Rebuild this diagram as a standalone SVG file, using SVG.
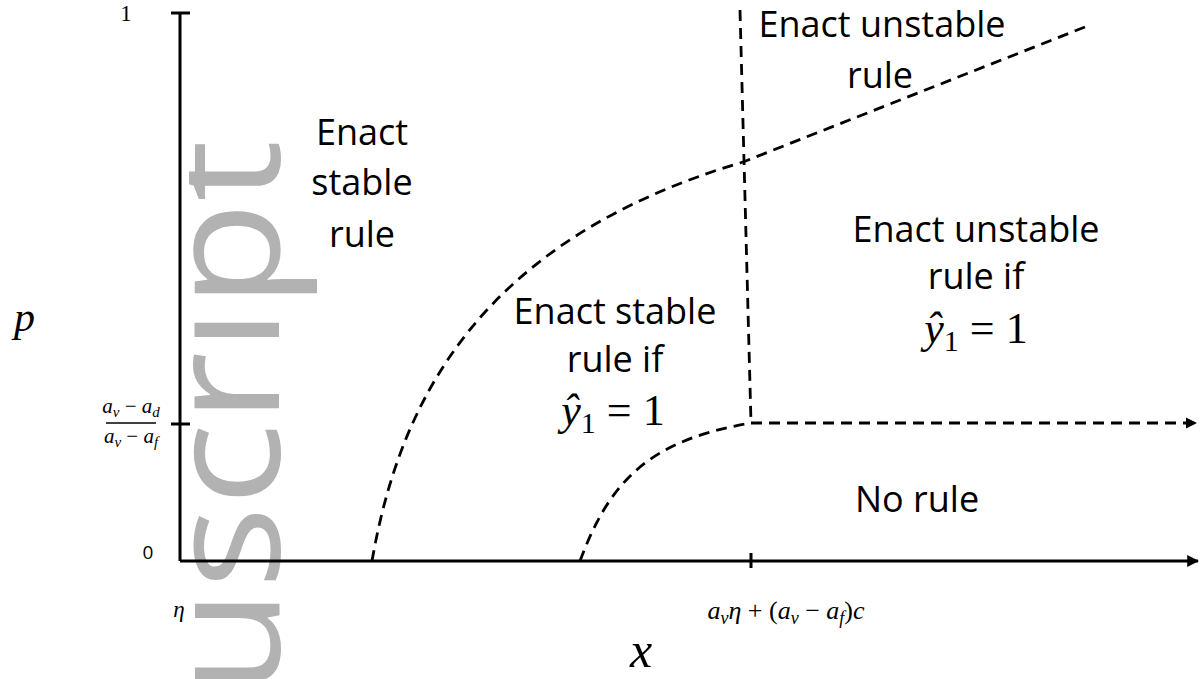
<svg xmlns="http://www.w3.org/2000/svg" width="1200" height="679" viewBox="0 0 1200 679">
<style>
.lbl{font-family:"Open Sans","Liberation Sans",sans-serif;font-size:36px;fill:#000;text-anchor:middle}
.m{font-family:"Liberation Serif","DejaVu Serif",serif;fill:#000}
.i{font-style:italic}
.ax{stroke:#000;stroke-width:3;fill:none}
.dash{stroke:#000;stroke-width:2.8;fill:none;stroke-dasharray:11 7}
</style>
<defs>
<marker id="arr" viewBox="0 0 10 10" refX="9" refY="5" markerWidth="4" markerHeight="4" orient="auto" markerUnits="strokeWidth">
<path d="M0,0 L10,5 L0,10 z" fill="#000"/>
</marker>
<clipPath id="wmclip"><rect x="189" y="0" width="200" height="679"/></clipPath>
</defs>
<rect width="1200" height="679" fill="#fff"/>
<g clip-path="url(#wmclip)">
<text id="watermark" x="-127" y="279" text-anchor="end" transform="rotate(-90) scale(1.1,1)" font-family="Open Sans, Liberation Sans, sans-serif" font-size="158" fill="#b2b2b2">nuscript</text>
</g>
<g id="connectors">
<line class="ax" x1="180" y1="13" x2="180" y2="561"/>
<line class="ax" x1="171" y1="13" x2="190" y2="13"/>
<line class="ax" x1="171" y1="424" x2="190" y2="424"/>
<line class="ax" x1="180" y1="561" x2="1198" y2="561" marker-end="url(#arr)"/>
<line class="ax" x1="751" y1="553" x2="751" y2="568"/>
<path class="dash" d="M372,561 C400,400 480,240 743,162 L1085,27"/>
<path class="dash" d="M580,561 C610,480 650,440 751,423"/>
<path class="dash" d="M740,10 L751,423"/>
<path class="dash" d="M751,423 L1196,423" marker-end="url(#arr)"/>
</g>
<g id="axis-labels">
<text class="m" x="126" y="21" font-size="23" text-anchor="middle">1</text>
<text x="148" y="559" font-family="Open Sans, Liberation Sans, sans-serif" font-size="19" text-anchor="middle">0</text>
<text class="m i" x="179" y="617" font-size="23" text-anchor="middle">η</text>
<text class="m i" x="14" y="331" font-size="42">p</text>
<text class="m i" x="630" y="667" font-size="50">x</text>
<g id="frac">
<text class="m" x="131" y="413" font-size="21" text-anchor="middle"><tspan class="i">a</tspan><tspan class="i" font-size="15" dy="4">v</tspan><tspan dy="-4"> − </tspan><tspan class="i">a</tspan><tspan class="i" font-size="15" dy="4">d</tspan></text>
<line x1="106" y1="423" x2="156" y2="423" stroke="#000" stroke-width="1.5"/>
<text class="m" x="131" y="443" font-size="21" text-anchor="middle"><tspan class="i">a</tspan><tspan class="i" font-size="15" dy="4">v</tspan><tspan dy="-4"> − </tspan><tspan class="i">a</tspan><tspan class="i" font-size="15" dy="4">f</tspan></text>
</g>
<text class="m" x="786" y="619" font-size="26" text-anchor="middle"><tspan class="i">a</tspan><tspan class="i" font-size="18" dy="5">v</tspan><tspan class="i" dy="-5">η</tspan><tspan> + (</tspan><tspan class="i">a</tspan><tspan class="i" font-size="18" dy="5">v</tspan><tspan dy="-5"> − </tspan><tspan class="i">a</tspan><tspan class="i" font-size="18" dy="5">f</tspan><tspan dy="-5">)</tspan><tspan class="i">c</tspan></text>
</g>
<g id="region-stable">
<text class="lbl" x="362" y="145">Enact</text>
<text class="lbl" x="362" y="195">stable</text>
<text class="lbl" x="362" y="247">rule</text>
</g>
<g id="region-stable-if">
<text class="lbl" x="615" y="324">Enact stable</text>
<text class="lbl" x="615" y="372">rule if</text>
<text class="m" x="613" y="425" font-size="44" text-anchor="middle"><tspan class="i">ŷ</tspan><tspan font-size="30" dy="8">1</tspan><tspan dy="-8"> = 1</tspan></text>
</g>
<g id="region-unstable-if">
<text class="lbl" x="976" y="242">Enact unstable</text>
<text class="lbl" x="976" y="289">rule if</text>
<text class="m" x="976" y="343" font-size="44" text-anchor="middle"><tspan class="i">ŷ</tspan><tspan font-size="30" dy="8">1</tspan><tspan dy="-8"> = 1</tspan></text>
</g>
<g id="region-unstable">
<text class="lbl" x="882" y="37">Enact unstable</text>
<text class="lbl" x="880" y="88">rule</text>
</g>
<g id="region-none">
<text class="lbl" x="917" y="512">No rule</text>
</g>
</svg>
